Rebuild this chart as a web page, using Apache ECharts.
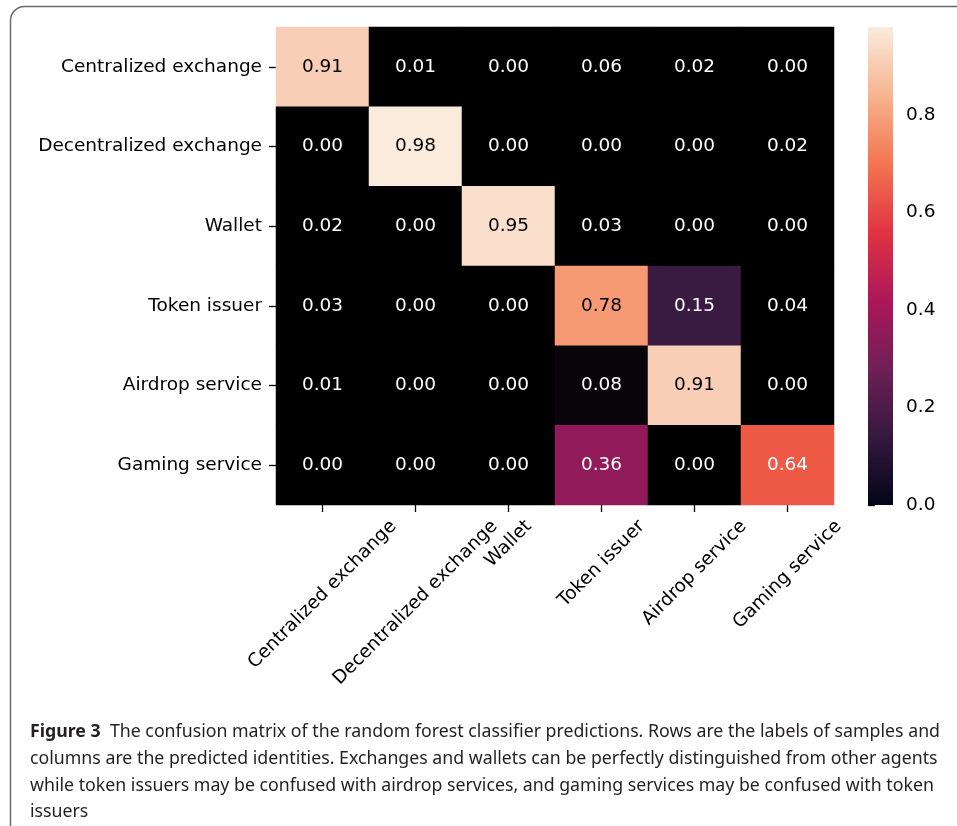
<!DOCTYPE html>
<html>
<head>
<meta charset="utf-8">
<script src="https://cdn.jsdelivr.net/npm/echarts@6/dist/echarts.min.js"></script>
<style>
  html, body { margin: 0; padding: 0; background: #ffffff; }
  #chart { width: 957px; height: 826px; }
</style>
</head>
<body>
<div id="chart"></div>
<script>
// Class names (rows = true labels, columns = predicted labels)
const classNames = ['Centralized exchange', 'Decentralized exchange', 'Wallet',
                    'Token issuer', 'Airdrop service', 'Gaming service'];

// Confusion matrix rows (fraction of each true class)
const centralizedRow   = [0.91, 0.01, 0.00, 0.06, 0.02, 0.00];
const decentralizedRow = [0.00, 0.98, 0.00, 0.00, 0.00, 0.02];
const walletRow        = [0.02, 0.00, 0.95, 0.03, 0.00, 0.00];
const tokenIssuerRow   = [0.03, 0.00, 0.00, 0.78, 0.15, 0.04];
const airdropRow       = [0.01, 0.00, 0.00, 0.08, 0.91, 0.00];
const gamingRow        = [0.00, 0.00, 0.00, 0.36, 0.00, 0.64];

// Colour bar tick values
const colorbarTicks = [0.0, 0.2, 0.4, 0.6, 0.8];

// Caption lines
const captionLines = [
  'The confusion matrix of the random forest classifier predictions. Rows are the labels of samples and',
  'columns are the predicted identities. Exchanges and wallets can be perfectly distinguished from other agents',
  'while token issuers may be confused with airdrop services, and gaming services may be confused with token',
  'issuers'
];

const matrixRows = [centralizedRow, decentralizedRow, walletRow, tokenIssuerRow, airdropRow, gamingRow];
const vmax = Math.max(...matrixRows.flat());

// "rocket" colormap for the colour bar, 8 evenly spaced samples
const rocketBar = ['#03051A', '#35193E', '#701F57', '#AD1759', '#E13342', '#F37651', '#F6B48F', '#FAEBDD'];
// cell palette: rocket at 15 evenly spaced samples, lowest values clipped to black
const rocketCells = ['#000000', '#000000', '#35193E', '#4E1D4C', '#701F57', '#8C1C5A', '#AD1759',
                     '#CA1E50', '#E13342', '#EE5545', '#F37651', '#F5966D', '#F6B48F', '#F8CFB6', '#FAEBDD'];

const FS = 18.5;
const FONT = 'DejaVu Sans';
const LABEL_FONT = FS + 'px "' + FONT + '"';
const measureCtx = document.createElement('canvas').getContext('2d');
function textWidth(s, font) { measureCtx.font = font; return measureCtx.measureText(s).width; }

// heatmap cells: [column, row, value]
const cells = [];
matrixRows.forEach((row, r) => {
  row.forEach((v, c) => {
    cells.push({
      value: [c, r, v],
      label: { color: v > 0.7 ? '#000000' : '#ffffff' }
    });
  });
});

// column labels: rotated 45 degrees, bounding box centred under each tick, top just below the ticks
const xLabelData = classNames.map((name, i) => [i, classNames.length - 1]);
function renderColumnLabel(params, api) {
  const col = api.value(0);
  const center = api.coord([col, api.value(1)]);
  const size = api.size([1, 1]);
  const name = classNames[col];
  const L = textWidth(name, LABEL_FONT);
  const top = center[1] + size[1] / 2 + 12;
  return {
    type: 'text',
    x: center[0],
    y: top + (L + FS) / (2 * Math.SQRT2),
    rotation: Math.PI / 4,
    silent: true,
    style: { text: name, font: LABEL_FONT, fill: '#000000', align: 'center', verticalAlign: 'middle' }
  };
}

// colour bar: one rectangle spanning [0, vmax] on the colour-bar axis, filled with the rocket gradient
function renderColorbar(params, api) {
  const bottom = api.coord([0, 0]);
  const top = api.coord([1, vmax]);
  const stops = rocketBar.map((c, i) => ({ offset: i / (rocketBar.length - 1), color: c }));
  return {
    type: 'rect',
    silent: true,
    shape: { x: bottom[0], y: top[1], width: top[0] - bottom[0], height: bottom[1] - top[1] },
    style: { fill: new echarts.graphic.LinearGradient(0, 1, 0, 0, stops) }
  };
}

// caption: condensed by horizontal scaling
const CAP_FS = 18;
const capFont = CAP_FS + 'px "Noto Sans"';
const capBoldFont = 'bold ' + CAP_FS + 'px "Noto Sans"';
const firstLineW = textWidth('Figure 3', capBoldFont) + textWidth('  ' + captionLines[0], capFont);
const capScale = 910 / firstLineW;
const capY = [732, 759, 786, 812];
const captionElems = captionLines.map((line, i) => ({
  type: 'text',
  x: 30, y: capY[i],
  scaleX: capScale,
  silent: true,
  style: {
    text: i === 0 ? '{b|Figure 3}  ' + line : line,
    font: capFont,
    fill: '#231f20',
    verticalAlign: 'middle',
    align: 'left',
    rich: { b: { fontWeight: 'bold', fontSize: CAP_FS, fontFamily: 'Noto Sans', fill: '#231f20', color: '#231f20' } }
  }
}));

const chart = echarts.init(document.getElementById('chart'), null, { renderer: 'canvas' });

chart.setOption({
  backgroundColor: '#ffffff',
  animation: false,
  textStyle: { fontFamily: FONT },
  grid: [
    { left: 276, top: 27, width: 558, height: 478, containLabel: false },
    { left: 868, top: 27, width: 25, height: 478, containLabel: false }
  ],
  xAxis: [
    {
      type: 'category', gridIndex: 0, data: classNames, position: 'bottom',
      axisLine: { show: false },
      axisTick: { show: true, interval: 0, alignWithLabel: true, length: 7, lineStyle: { color: '#000', width: 1.3 } },
      axisLabel: { show: false, interval: 0 },
      splitLine: { show: false }, splitArea: { show: false }
    },
    { type: 'value', gridIndex: 1, show: false, min: 0, max: 1 }
  ],
  yAxis: [
    {
      type: 'category', gridIndex: 0, data: classNames, inverse: true,
      axisLine: { show: false },
      axisTick: { show: true, interval: 0, alignWithLabel: true, length: 7, lineStyle: { color: '#000', width: 1.3 } },
      axisLabel: { interval: 0, margin: 14, fontSize: FS, fontFamily: FONT, color: '#000', padding: [3, 0, 0, 0] },
      splitLine: { show: false }, splitArea: { show: false }
    },
    {
      type: 'value', gridIndex: 1, position: 'right', min: 0, max: vmax,
      axisLine: { show: false },
      axisTick: { show: true, length: 7, customValues: colorbarTicks, lineStyle: { color: '#000', width: 1.3 } },
      axisLabel: {
        margin: 13, fontSize: FS, fontFamily: FONT, color: '#000',
        customValues: colorbarTicks, formatter: v => v.toFixed(1)
      },
      splitLine: { show: false }
    }
  ],
  visualMap: [
    {
      type: 'continuous', show: false, seriesIndex: 0, dimension: 2,
      min: 0, max: vmax, inRange: { color: rocketCells }
    }
  ],
  series: [
    {
      type: 'heatmap', xAxisIndex: 0, yAxisIndex: 0, data: cells,
      itemStyle: { borderWidth: 0 },
      label: {
        show: true, fontSize: FS, fontFamily: FONT, padding: [3, 0, 0, 0],
        formatter: p => p.value[2].toFixed(2)
      },
      emphasis: { disabled: true }
    },
    {
      type: 'custom', xAxisIndex: 1, yAxisIndex: 1, data: [[0, vmax]],
      renderItem: renderColorbar, silent: true, clip: false
    },
    {
      type: 'custom', xAxisIndex: 0, yAxisIndex: 0, data: xLabelData,
      renderItem: renderColumnLabel, silent: true, clip: false, z: 5
    }
  ],
  graphic: [
    {
      type: 'rect', silent: true,
      shape: { x: 10.5, y: 6.5, width: 1200, height: 1000, r: 14 },
      style: { fill: 'none', stroke: '#6b6b6b', lineWidth: 1.5 }
    }
  ].concat(captionElems)
});
</script>
</body>
</html>
